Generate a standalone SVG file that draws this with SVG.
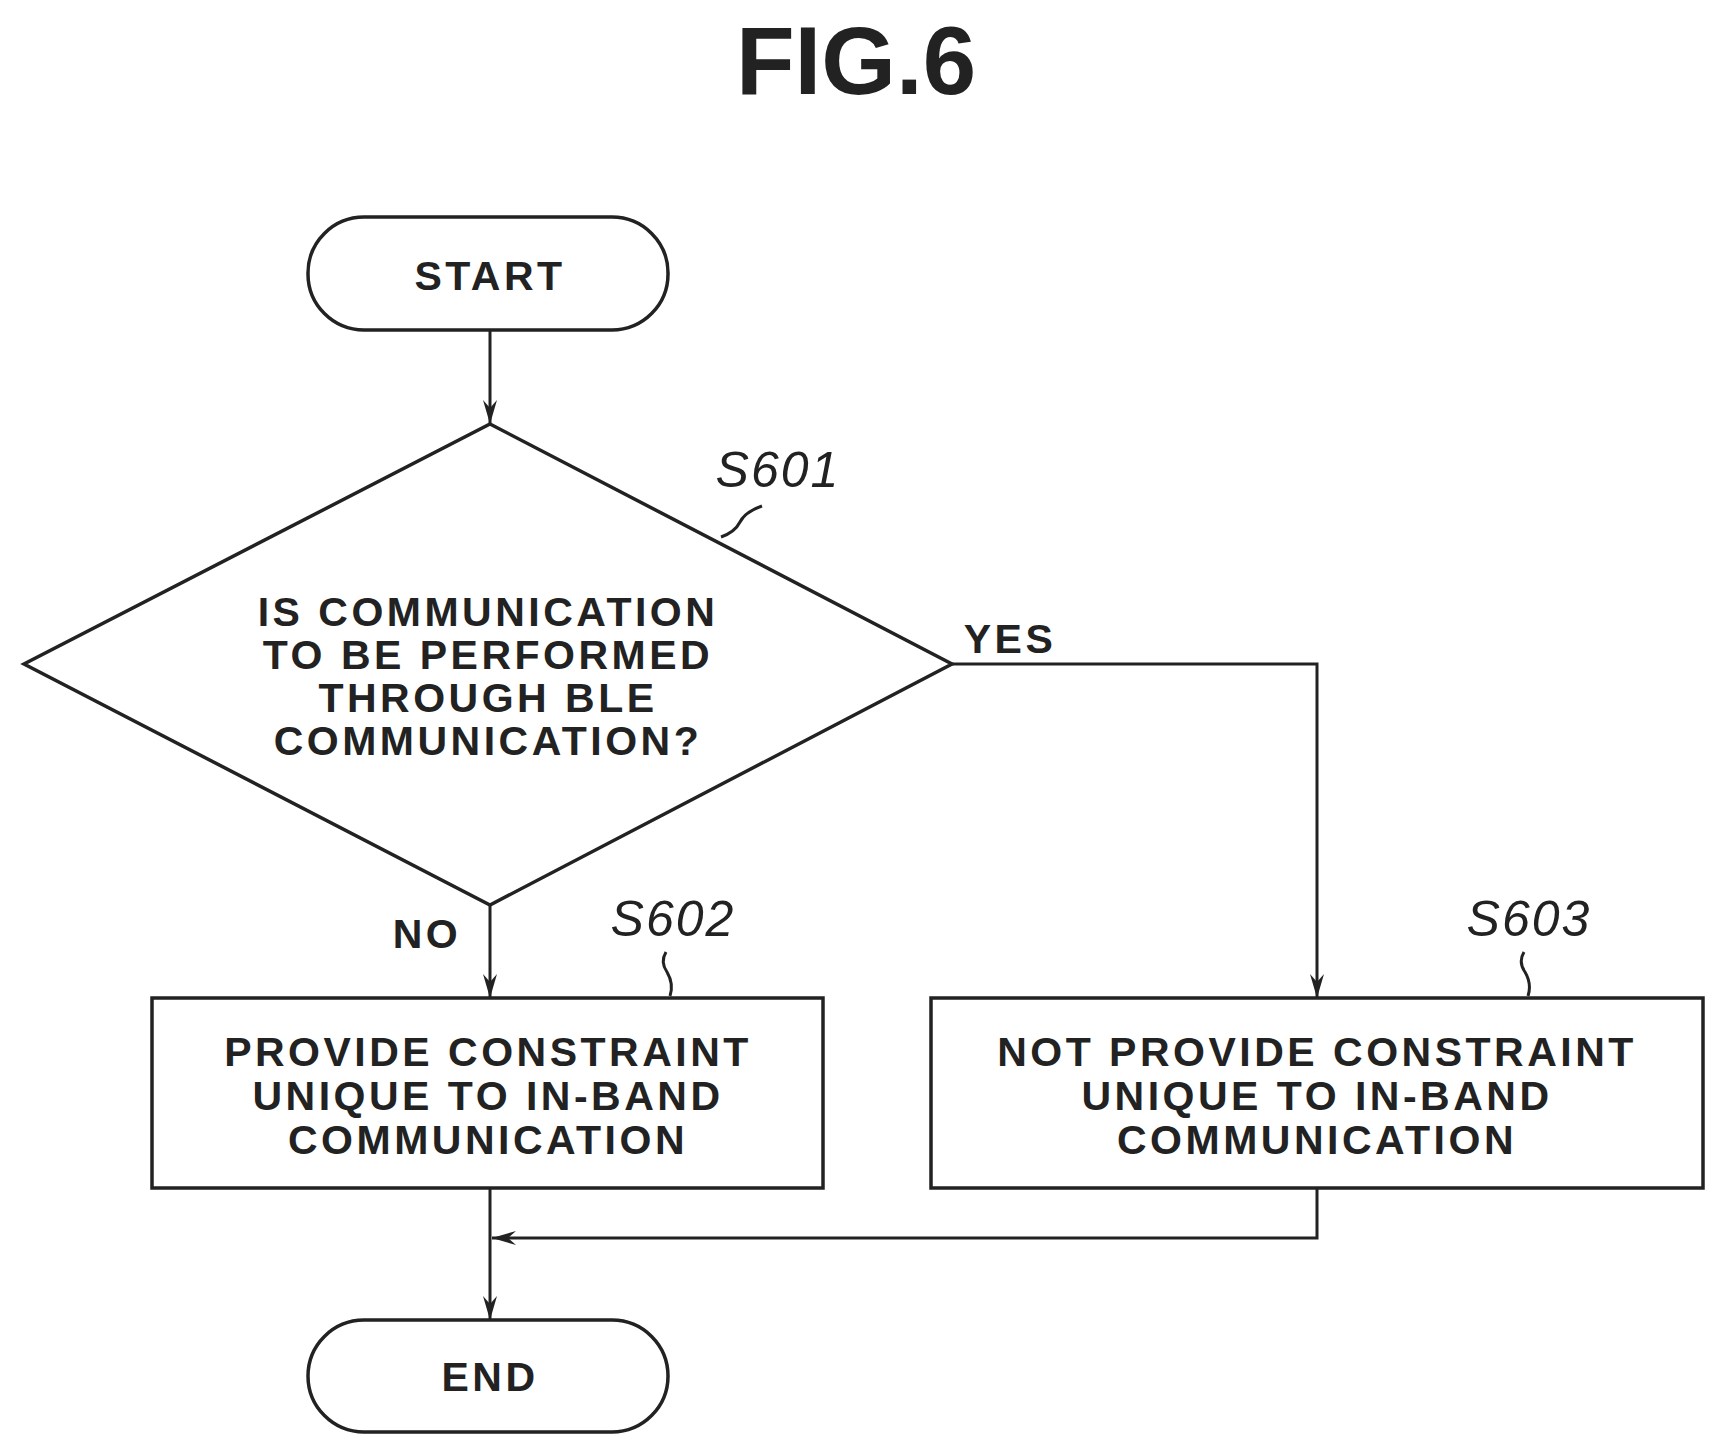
<svg xmlns="http://www.w3.org/2000/svg" width="1725" height="1453" viewBox="0 0 1725 1453">
<style>
.s{fill:#fff;stroke:#222;stroke-width:3.5}
.c{fill:none;stroke:#222;stroke-width:3}
.t{font-family:"Liberation Sans",Arial,sans-serif;font-weight:bold;font-size:41px;letter-spacing:3.5px;fill:#222;text-anchor:middle}
.l{font-family:"Liberation Sans",Arial,sans-serif;font-style:italic;font-size:50px;letter-spacing:2px;fill:#222;text-anchor:middle}
</style>
<defs>
<marker id="a" markerWidth="24" markerHeight="14" refX="24" refY="7" orient="auto" markerUnits="userSpaceOnUse" viewBox="0 0 24 14">
<path d="M0,0 L24,7 L0,14 L8,7 Z" fill="#222"/>
</marker>
</defs>
<text x="856" y="94" font-family="Liberation Sans,Arial,sans-serif" font-weight="bold" font-size="96" fill="#222" text-anchor="middle">FIG.6</text>
<g id="connectors">
<line class="c" x1="490" y1="330" x2="490" y2="424" marker-end="url(#a)"/>
<line class="c" x1="490" y1="905" x2="490" y2="998" marker-end="url(#a)"/>
<polyline class="c" points="952,664 1317,664 1317,998" marker-end="url(#a)"/>
<polyline class="c" points="1317,1188 1317,1238 492,1238" marker-end="url(#a)"/>
<line class="c" x1="490" y1="1188" x2="490" y2="1320" marker-end="url(#a)"/>
<text class="t" x="1010" y="653">YES</text>
<text class="t" x="427" y="948">NO</text>
</g>
<g id="start">
<rect class="s" x="308" y="217" width="360" height="113" rx="56"/>
<text class="t" x="490" y="290">START</text>
</g>
<g id="s601">
<polygon class="s" points="490,424 952,664 490,905 24,664"/>
<text class="t" x="488" y="626">IS COMMUNICATION</text>
<text class="t" x="488" y="669">TO BE PERFORMED</text>
<text class="t" x="488" y="712">THROUGH BLE</text>
<text class="t" x="488" y="755">COMMUNICATION?</text>
<text class="l" x="778" y="487">S601</text>
<path class="c" d="M762,506 Q745,512 740,522 Q735,532 721,537"/>
</g>
<g id="s602">
<rect class="s" x="152" y="998" width="671" height="190"/>
<text class="t" x="488" y="1066">PROVIDE CONSTRAINT</text>
<text class="t" x="488" y="1110">UNIQUE TO IN-BAND</text>
<text class="t" x="488" y="1154">COMMUNICATION</text>
<text class="l" x="673" y="936">S602</text>
<path class="c" d="M666,952 Q660,962 667,972 Q674,984 670,996"/>
</g>
<g id="s603">
<rect class="s" x="931" y="998" width="772" height="190"/>
<text class="t" x="1317" y="1066">NOT PROVIDE CONSTRAINT</text>
<text class="t" x="1317" y="1110">UNIQUE TO IN-BAND</text>
<text class="t" x="1317" y="1154">COMMUNICATION</text>
<text class="l" x="1529" y="936">S603</text>
<path class="c" d="M1524,952 Q1518,962 1525,972 Q1532,984 1528,996"/>
</g>
<g id="end">
<rect class="s" x="308" y="1320" width="360" height="112" rx="56"/>
<text class="t" x="490" y="1391">END</text>
</g>
</svg>
